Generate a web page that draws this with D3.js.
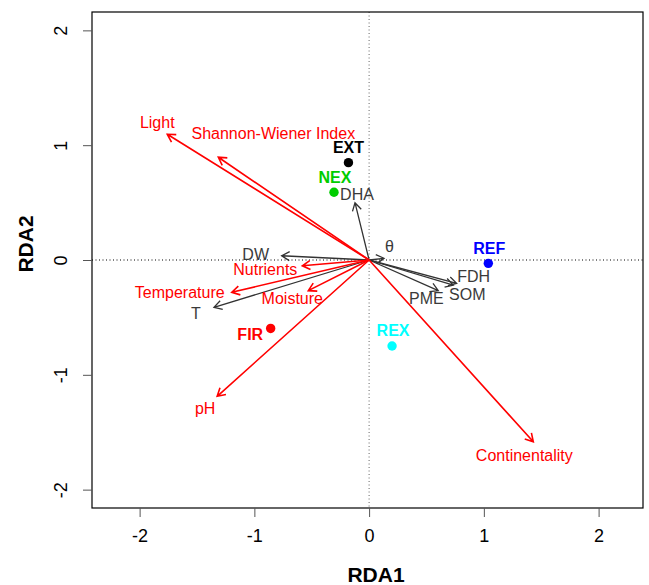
<!DOCTYPE html>
<html>
<head>
<meta charset="utf-8">
<script src="https://cdn.jsdelivr.net/npm/d3@7"></script>
<style>
  html, body { margin: 0; padding: 0; background: #fff; }
  svg { display: block; font-family: "Liberation Sans", Arial, Helvetica, sans-serif; }
</style>
</head>
<body>
<div id="chart"></div>
<script>
// sites (group centroids)
var siteNames  = ["EXT", "NEX", "REF", "REX", "FIR"];
var siteX      = [-0.180, -0.306, 1.039, 0.200, -0.858];
var siteY      = [0.848, 0.590, -0.029, -0.749, -0.596];

// explanatory variables (red arrows)
var envNames = ["Light", "Shannon-Wiener Index", "Nutrients", "Temperature", "Moisture", "pH", "Continentality"];
var envX     = [-1.759, -1.314, -0.582, -1.197, -0.530, -1.324, 1.431];
var envY     = [1.095, 0.895, -0.050, -0.281, -0.267, -1.187, -1.583];

// response variables (grey arrows)
var respNames = ["DHA", "DW", "T", "\u03b8", "FDH", "SOM", "PME"];
var respX     = [-0.123, -0.762, -1.352, 0.130, 0.763, 0.734, 0.603];
var respY     = [0.499, 0.037, -0.412, 0.015, -0.203, -0.218, -0.267];

var ticks = [-2, -1, 0, 1, 2];

// label placement relative to the mark, in px (text baseline)
var nudge = {
  "EXT": [0, -9.5, "middle"], "NEX": [1, -9.5, "middle"], "REF": [1, -9, "middle"],
  "REX": [1, -9.5, "middle"], "FIR": [-7.5, 12, "end"],
  "Light": [-10, -6], "Shannon-Wiener Index": [55, -18], "Nutrients": [-37, 9],
  "Temperature": [-52, 5.5], "Moisture": [-16, 13], "pH": [-12, 18], "Continentality": [-9, 19],
  "DHA": [2, -2.5], "DW": [-26, 4], "T": [-18, 12], "\u03b8": [5.5, -6],
  "FDH": [17, -1], "SOM": [14, 14.5], "PME": [-12, 13]
};
var siteColor = { "EXT": "#000000", "NEX": "#00CD00", "REF": "#0000FF", "REX": "#00FFFF", "FIR": "#FF0000" };

var W = 649, H = 585;
var svg = d3.select("#chart").append("svg").attr("width", W).attr("height", H);

var x = d3.scaleLinear().domain([-2.415, 2.387]).range([92, 643]);
var y = d3.scaleLinear().domain([-2.16, 2.16]).range([508, 12]);

var plot = svg.append("g");

// reference lines through origin
plot.append("line")
  .attr("x1", x(0)).attr("x2", x(0)).attr("y1", y.range()[1]).attr("y2", y.range()[0])
  .attr("stroke", "#666").attr("stroke-dasharray", "1,2.5");
plot.append("line")
  .attr("y1", y(0)).attr("y2", y(0)).attr("x1", x.range()[0]).attr("x2", x.range()[1])
  .attr("stroke", "#000").attr("stroke-dasharray", "1,2.5");

function arrowPath(x1, y1) {
  var x0 = x(0), y0 = y(0);
  var ang = Math.atan2(y1 - y0, x1 - x0);
  var len = 9, spread = Math.PI / 6;
  var ax = x1 - len * Math.cos(ang - spread), ay = y1 - len * Math.sin(ang - spread);
  var bx = x1 - len * Math.cos(ang + spread), by = y1 - len * Math.sin(ang + spread);
  return "M" + x0 + "," + y0 + "L" + x1 + "," + y1 +
         "M" + ax + "," + ay + "L" + x1 + "," + y1 + "L" + bx + "," + by;
}

function drawArrows(names, xs, ys, color, width, textColor) {
  var data = names.map(function(n, i) { return { name: n, x: xs[i], y: ys[i] }; });
  var g = plot.append("g");
  g.selectAll("path").data(data).enter().append("path")
    .attr("d", function(d) { return arrowPath(x(d.x), y(d.y)); })
    .attr("fill", "none").attr("stroke", color).attr("stroke-width", width)
    .attr("stroke-linejoin", "miter");
  g.selectAll("text").data(data).enter().append("text")
    .attr("x", function(d) { return x(d.x) + nudge[d.name][0]; })
    .attr("y", function(d) { return y(d.y) + nudge[d.name][1]; })
    .attr("text-anchor", "middle")
    .attr("font-size", "16px")
    .attr("fill", textColor)
    .text(function(d) { return d.name; });
}

drawArrows(respNames, respX, respY, "#333333", 1.3, "#3a3a3a");
drawArrows(envNames, envX, envY, "#FF0000", 1.6, "#FF0000");

// site points
var sites = siteNames.map(function(n, i) { return { name: n, x: siteX[i], y: siteY[i] }; });
var sg = plot.append("g");
sg.selectAll("circle").data(sites).enter().append("circle")
  .attr("cx", function(d) { return x(d.x); })
  .attr("cy", function(d) { return y(d.y); })
  .attr("r", 4.7)
  .attr("fill", function(d) { return siteColor[d.name]; });
sg.selectAll("text").data(sites).enter().append("text")
  .attr("x", function(d) { return x(d.x) + nudge[d.name][0]; })
  .attr("y", function(d) { return y(d.y) + nudge[d.name][1]; })
  .attr("text-anchor", function(d) { return nudge[d.name][2]; })
  .attr("font-size", "16px").attr("font-weight", "bold")
  .attr("fill", function(d) { return siteColor[d.name]; })
  .text(function(d) { return d.name; });

// frame
svg.append("rect")
  .attr("x", 92).attr("y", 12).attr("width", 643 - 92).attr("height", 508 - 12)
  .attr("fill", "none").attr("stroke", "#000").attr("stroke-width", 1.2);

// axes (plain hyphen minus, as in the original)
var fmt = function(d) { return String(d); };
var xAxis = svg.append("g").attr("transform", "translate(0,508)")
  .call(d3.axisBottom(x).tickValues(ticks).tickSize(9).tickPadding(0).tickFormat(fmt));
xAxis.select(".domain").remove();
xAxis.selectAll("line").attr("stroke", "#555");
xAxis.selectAll("text").attr("font-size", "18px").attr("fill", "#000")
  .attr("dy", null).attr("y", 33.5);

var yAxis = svg.append("g").attr("transform", "translate(92,0)")
  .call(d3.axisLeft(y).tickValues(ticks).tickSize(9).tickFormat(fmt));
yAxis.select(".domain").remove();
yAxis.selectAll("line").attr("stroke", "#555");
yAxis.selectAll("text").attr("font-size", "18px").attr("fill", "#000")
  .attr("x", null).attr("dy", null)
  .attr("text-anchor", "middle")
  .attr("transform", "translate(-25,0) rotate(-90)");

svg.selectAll(".tick text").attr("font-family", "\"Liberation Sans\", Arial, sans-serif");

// axis titles
svg.append("text").attr("x", 376).attr("y", 582)
  .attr("text-anchor", "middle").attr("font-size", "21px").attr("font-weight", "bold")
  .text("RDA1");
svg.append("text").attr("transform", "translate(32.5,244) rotate(-90)")
  .attr("text-anchor", "middle").attr("font-size", "21px").attr("font-weight", "bold")
  .text("RDA2");
</script>
</body>
</html>
